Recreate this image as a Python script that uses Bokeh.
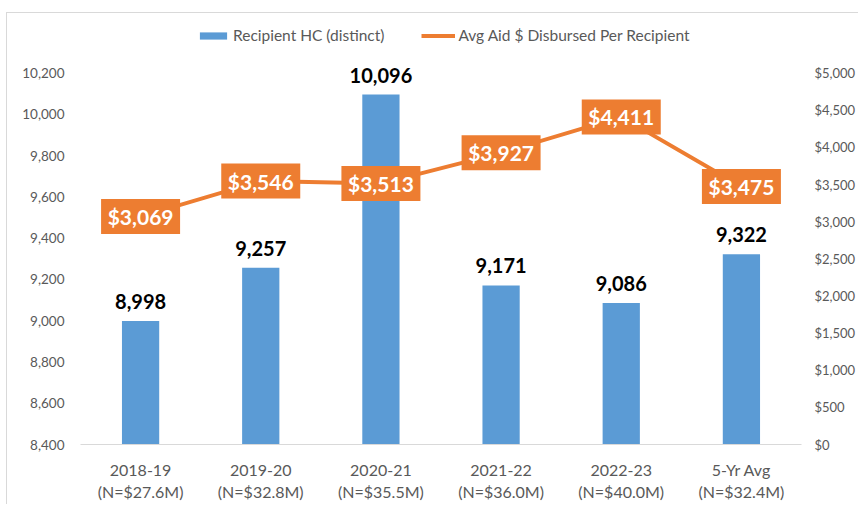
from bokeh.plotting import figure
from bokeh.models import (ColumnDataSource, FactorRange, Range1d, LinearAxis,
                          NumeralTickFormatter, Legend, LegendItem, FixedTicker)
from bokeh.embed import file_html
from bokeh.resources import INLINE
from bokeh.core.properties import value

categories = ["2018-19\n(N=$27.6M)", "2019-20\n(N=$32.8M)", "2020-21\n(N=$35.5M)",
              "2021-22\n(N=$36.0M)", "2022-23\n(N=$40.0M)", "5-Yr Avg\n(N=$32.4M)"]
recipients = [8998, 9257, 10096, 9171, 9086, 9322]
avg_aid = [3069, 3546, 3513, 3927, 4411, 3475]
left_ticks = [8400, 8600, 8800, 9000, 9200, 9400, 9600, 9800, 10000, 10200]
right_ticks = [0, 500, 1000, 1500, 2000, 2500, 3000, 3500, 4000, 4500, 5000]

FONT = "Lato"
BLUE = "#5B9BD5"
ORANGE = "#ED7D31"
GRAY = "#595959"

# layout: axis span (8400..10200) covers 374px; frame extends 53px above it for the legend
AXIS_PX = 374
EXTRA_PX = 53
l0, l1 = left_ticks[0], left_ticks[-1]
r0, r1 = right_ticks[0], right_ticks[-1]
left_top = l1 + (l1 - l0) * EXTRA_PX / AXIS_PX
right_top = r1 + (r1 - r0) * EXTRA_PX / AXIS_PX

src = ColumnDataSource(dict(
    cat=categories, rec=recipients, aid=avg_aid,
    rec_lbl=[f"{v:,}" for v in recipients],
    aid_lbl=[f"${v:,}" for v in avg_aid],
))

p = figure(width=858, height=504, x_range=FactorRange(*categories, range_padding=0),
           y_range=Range1d(l0, left_top), output_backend="svg", toolbar_location=None,
           min_border_left=80, min_border_right=52, min_border_top=20, min_border_bottom=57)
p.extra_y_ranges = {"aid": Range1d(r0, right_top)}
p.outline_line_color = None
p.xgrid.grid_line_color = None
p.ygrid.grid_line_color = None
p.border_fill_color = None
p.background_fill_color = None
p.styles = {
    "background": "linear-gradient(#d9d9d9,#d9d9d9) 6px 12px / 1px 100% no-repeat, "
                  "linear-gradient(#d9d9d9,#d9d9d9) 6px 12px / 100% 1px no-repeat, white",
}

bars = p.vbar(x="cat", top="rec", bottom=l0, width=0.31, source=src,
              fill_color=BLUE, line_color=None)
line = p.line(x="cat", y="aid", source=src, y_range_name="aid",
              line_color=ORANGE, line_width=4)

# bar value labels
p.text(x="cat", y="rec", text="rec_lbl", source=src, text_align="center",
       text_baseline="bottom", y_offset=-12, text_font=value(FONT),
       text_font_style="bold", text_font_size="20px", text_color="black")

# line value labels (orange boxes)
p.rect(x="cat", y="aid", width=79, height=35, width_units="screen", height_units="screen",
       source=src, y_range_name="aid", fill_color=ORANGE, line_color=None)
p.text(x="cat", y="aid", text="aid_lbl", source=src, y_range_name="aid",
       text_align="center", text_baseline="middle", text_font=value(FONT),
       text_font_style="bold", text_font_size="21px", text_color="white")

# axes
xa = p.xaxis[0]
xa.axis_line_color = "#d9d9d9"
xa.major_tick_line_color = None
xa.minor_tick_line_color = None
xa.major_label_text_font = FONT
xa.major_label_text_font_size = "16px"
xa.major_label_text_color = GRAY
xa.major_label_standoff = 9

ya = p.yaxis[0]
ya.ticker = FixedTicker(ticks=left_ticks)
ya.formatter = NumeralTickFormatter(format="0,0")
ya.axis_line_color = None
ya.major_tick_line_color = None
ya.minor_tick_line_color = None
ya.major_label_text_font = FONT
ya.major_label_text_font_size = "13.5px"
ya.major_label_text_color = GRAY
ya.major_label_standoff = 10

ra = LinearAxis(y_range_name="aid", ticker=FixedTicker(ticks=right_ticks),
                formatter=NumeralTickFormatter(format="$0,0"))
ra.axis_line_color = None
ra.major_tick_line_color = None
ra.minor_tick_line_color = None
ra.major_label_text_font = FONT
ra.major_label_text_font_size = "13px"
ra.major_label_text_color = GRAY
ra.major_label_standoff = 7
p.add_layout(ra, "right")

legend = Legend(items=[LegendItem(label="Recipient HC (distinct)", renderers=[bars]),
                       LegendItem(label="Avg Aid $ Disbursed Per Recipient", renderers=[line])],
                orientation="horizontal", location=(116, 400),
                label_text_font=FONT, label_text_font_size="15.5px", label_text_color=GRAY,
                glyph_width=34, glyph_height=9, spacing=37, label_standoff=3,
                background_fill_alpha=0, border_line_color=None, padding=0, margin=0)
p.add_layout(legend, "center")

open("out.html", "w").write(file_html(p, INLINE))
